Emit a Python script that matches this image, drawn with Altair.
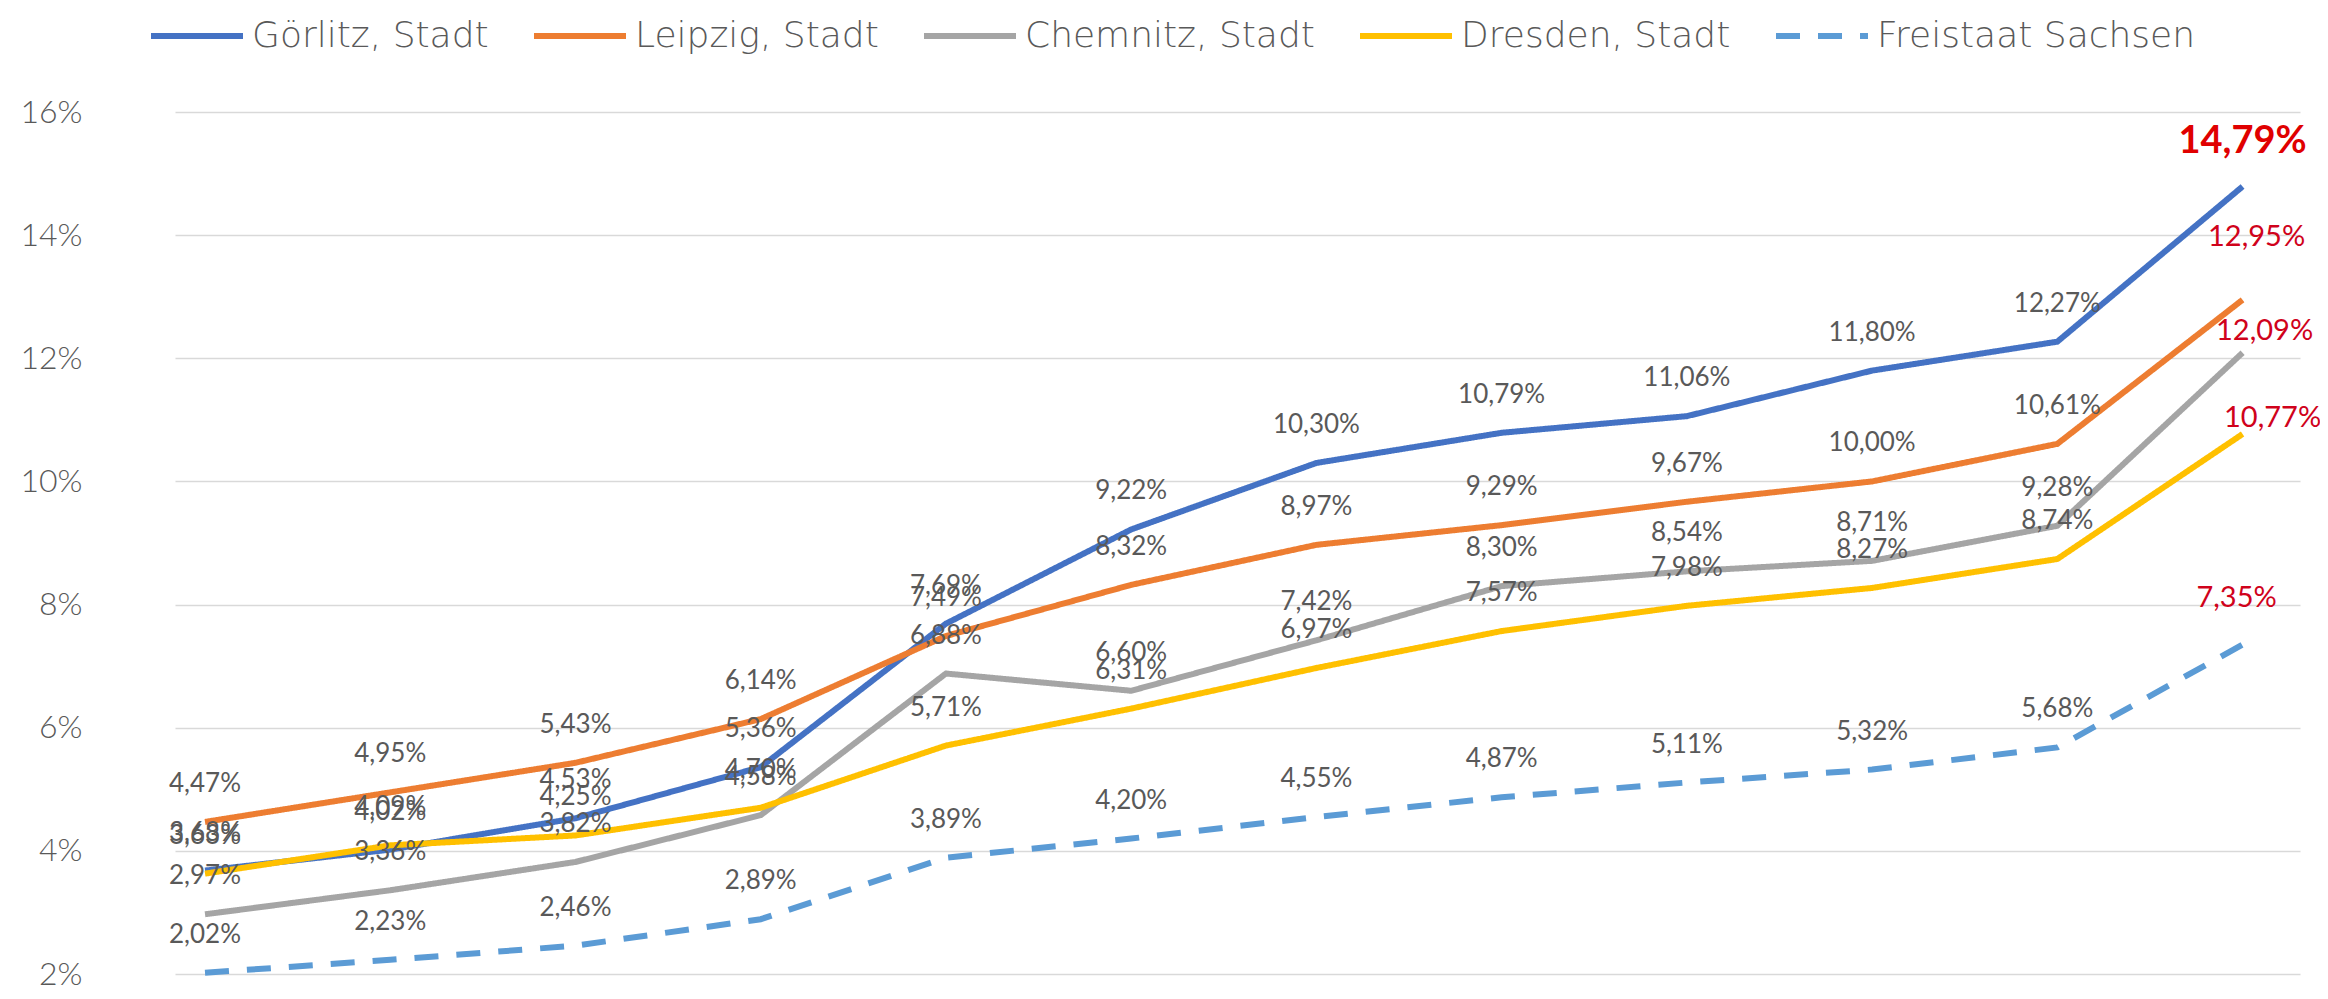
import altair as alt
import pandas as pd

# Position index of each data point (the chart shows no x-axis labels)
punkte = list(range(1, 13))

serien = ["Görlitz, Stadt", "Leipzig, Stadt", "Chemnitz, Stadt", "Dresden, Stadt", "Freistaat Sachsen"]

goerlitz = [3.68, 4.02, 4.53, 5.36, 7.69, 9.22, 10.30, 10.79, 11.06, 11.80, 12.27, 14.79]
leipzig = [4.47, 4.95, 5.43, 6.14, 7.49, 8.32, 8.97, 9.29, 9.67, 10.00, 10.61, 12.95]
chemnitz = [2.97, 3.36, 3.82, 4.58, 6.88, 6.60, 7.42, 8.30, 8.54, 8.71, 9.28, 12.09]
dresden = [3.63, 4.09, 4.25, 4.70, 5.71, 6.31, 6.97, 7.57, 7.98, 8.27, 8.74, 10.77]
sachsen = [2.02, 2.23, 2.46, 2.89, 3.89, 4.20, 4.55, 4.87, 5.11, 5.32, 5.68, 7.35]

y_ticks = [2, 4, 6, 8, 10, 12, 14, 16]

farben = ["#4472C4", "#ED7D31", "#A5A5A5", "#FFC000", "#5B9BD5"]
striche = [[1, 0], [1, 0], [1, 0], [1, 0], [24, 18]]

rows = []
for name, vals in zip(serien, [goerlitz, leipzig, chemnitz, dresden, sachsen]):
    for p, v in zip(punkte, vals):
        rows.append({"serie": name, "punkt": p, "wert": v,
                     "letzter": p == punkte[-1]})
df = pd.DataFrame(rows)

x_enc = alt.X("punkt:Q", scale=alt.Scale(domain=[0.838, 12.31], nice=False, zero=False), axis=None)
y_enc = alt.Y("wert:Q",
              scale=alt.Scale(domain=[2, 16], nice=False, zero=False),
              axis=alt.Axis(values=y_ticks, title=None, domain=False, ticks=False,
                            labelExpr="datum.value + '%'", labelFont="Lato", labelFontWeight=300,
                            labelFontSize=32, labelColor="#595959", labelPadding=93,
                            grid=True, gridColor="#D9D9D9", gridWidth=1.5))

base = alt.Chart(df).encode(x=x_enc, y=y_enc)

lines = base.mark_line(strokeWidth=6).encode(
    color=alt.Color("serie:N", scale=alt.Scale(domain=serien, range=farben), title=None),
    strokeDash=alt.StrokeDash("serie:N", scale=alt.Scale(domain=serien, range=striche), title=None),
)

lab = base.transform_calculate(
    txt="replace(format(datum.wert, '.2f'), '.', ',') + '%'"
)

labels = lab.transform_filter("!datum.letzter").mark_text(
    dy=-38, font="Lato", fontSize=26, color="#595959"
).encode(text="txt:N")

# label placement styles for the highlighted last column (red labels)
last_styles = {
    "Görlitz, Stadt": dict(dy=-45, dx=0, fontSize=38, fontWeight="bold", color="#E00000"),
    "Leipzig, Stadt": dict(dy=-63, dx=14, fontSize=29, color="#D0021B"),
    "Chemnitz, Stadt": dict(dy=-22, dx=22, fontSize=29, color="#D0021B"),
    "Dresden, Stadt": dict(dy=-16, dx=30, fontSize=29, color="#D0021B"),
    "Freistaat Sachsen": dict(dy=-47, dx=-6, fontSize=29, color="#D0021B"),
}
last_layers = []
for name, st in last_styles.items():
    last_layers.append(
        lab.transform_filter(f"datum.letzter && datum.serie == '{name}'")
        .mark_text(font="Lato", **st)
        .encode(text="txt:N")
    )

chart = alt.layer(lines, labels, *last_layers).properties(
    width=2125, height=862,
    autosize=alt.AutoSizeParams(type="none"),
    padding={"left": 167, "top": 104, "right": 20, "bottom": 17},
    background="white",
).configure_view(stroke=None).configure_legend(
    orient="none", legendX=-27, legendY=-125, direction="horizontal", columns=5,
    labelFont="DejaVu Sans", labelFontWeight=200, labelFontSize=36, labelColor="#595959",
    labelLimit=0,
    symbolType="stroke", symbolSize=8464, symbolStrokeWidth=6,
    columnPadding=33, labelOffset=6, padding=0,
)

chart.save("out.html", embed_options={"renderer": "svg", "actions": False})
